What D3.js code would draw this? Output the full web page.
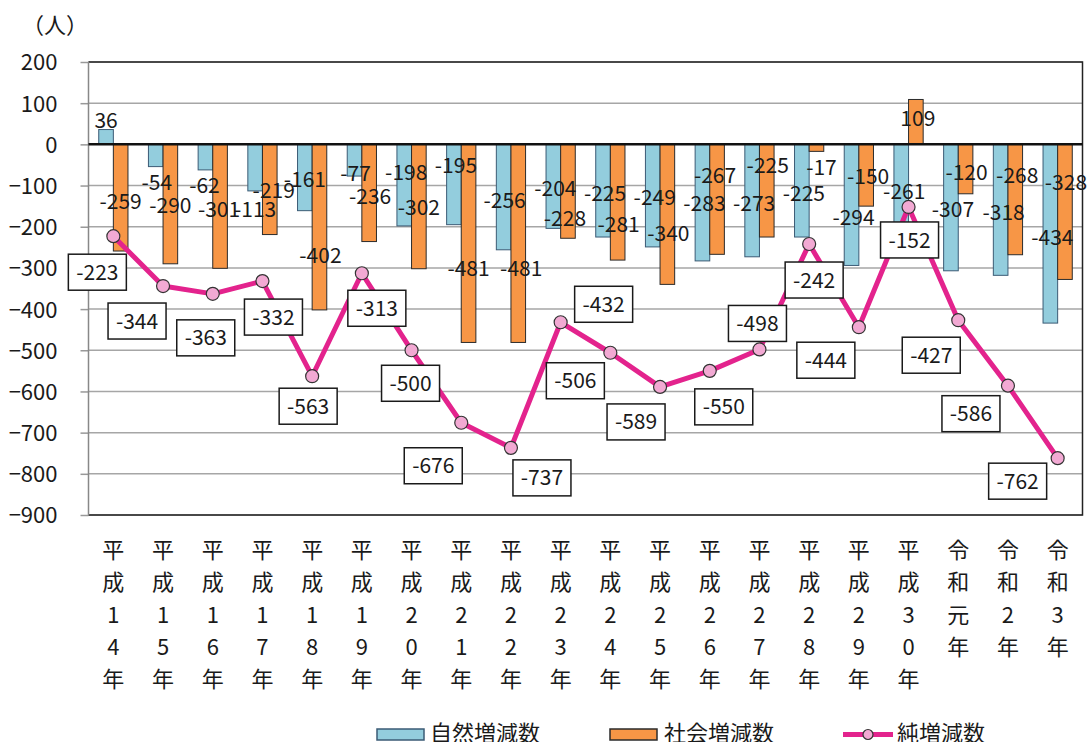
<!DOCTYPE html>
<html>
<head>
<meta charset="utf-8">
<script src="https://cdn.jsdelivr.net/npm/d3@7"></script>
<style>
  html, body { margin: 0; padding: 0; background: #fff; }
  text { font-family: "Noto Sans CJK JP", "Noto Sans", sans-serif; fill: #1a1a1a; }
</style>
</head>
<body>
<div id="canvas"></div>
<script>
var years = ['平成14年', '平成15年', '平成16年', '平成17年', '平成18年', '平成19年', '平成20年',
    '平成21年', '平成22年', '平成23年', '平成24年', '平成25年', '平成26年', '平成27年',
    '平成28年', '平成29年', '平成30年', '令和元年', '令和2年', '令和3年'];
var natural = [36, -54, -62, -113, -161, -77, -198, -195, -256, -204, -225, -249, -283, -273, -225, -294, -261, -307, -318, -434];
var social = [-259, -290, -301, -219, -402, -236, -302, -481, -481, -228, -281, -340, -267, -225, -17, -150, 109, -120, -268, -328];
var net = [-223, -344, -363, -332, -563, -313, -500, -676, -737, -432, -506, -589, -550, -498, -242, -444, -152, -427, -586, -762];
var yTicks = [200, 100, 0, -100, -200, -300, -400, -500, -600, -700, -800, -900];
var seriesNames = ['自然増減数', '社会増減数', '純増減数'];

// hand placed data labels, offsets in px from the bar end / point
var natLabelDx = [0, 1, -1, 0, 0, 1, 2, 2, 1, 2, 2, 2, 2, 2, 2, 2, 3, 2, 3, 2];
var natLabelDy = [-9, 16, 16, 19, -31, -3, -53, -59, -49, -40, -44, -49, -57, -53, -44, -48, -60, -61, -63, -86];
var socLabelDx = [0, 0, -1, 4, 1, 1, 0, 0, 3, -3, 1, 1, -2, 1, 5, 2, 2, 1, 2, 1];
var socLabelDy = [-50, -58, -59, -44, -54, -45, -61, -74, -74, -20, -36, -51, -79, -72, 16, -30, 19, -21, -79, -97];
var netLabelShift = [[-16, 36], [-26, 35], [-7, 44], [11, 36], [-4, 30], [15, 35], [-1, 33], [-28, 43],
    [31, 30], [43, -18], [-35, 28], [-24, 35], [14, 36], [-2, -26], [5, 36], [-33, 33],
    [1, 33], [-27, 35], [-37, 28], [-40, 23]];

var W = 1089, H = 742;
var plotL = 88.5, plotR = 1082.5, plotT = 62, plotB = 515;

var blue = '#93cddd', orange = '#f79646', pink = '#e3238d';

var svg = d3.select('#canvas').append('svg')
    .attr('width', W)
    .attr('height', H);

var x = d3.scaleBand()
    .domain(years)
    .range([plotL, plotR]);

var xSub = d3.scaleBand()
    .domain(['n', 's'])
    .range([0, x.bandwidth()])
    .paddingOuter(0.7);

var y = d3.scaleLinear()
    .domain([-900, 200])
    .range([plotB, plotT]);

// gridlines + y axis
var yAxis = d3.axisLeft(y)
    .tickValues(yTicks)
    .tickSize(8)
    .tickPadding(23)
    .tickFormat(d3.format('d'));

var gy = svg.append('g')
    .attr('transform', 'translate(' + plotL + ',0)')
    .call(yAxis);
gy.select('.domain').remove();
gy.selectAll('.tick line').attr('stroke', '#999').attr('stroke-width', 1.5);
gy.selectAll('.tick text')
    .style('font-size', '22px')
    .attr('dy', '0.36em');

svg.append('g').selectAll('line')
    .data(yTicks)
    .enter()
    .append('line')
    .attr('x1', plotL)
    .attr('x2', plotR)
    .attr('y1', function(d) { return y(d); })
    .attr('y2', function(d) { return y(d); })
    .attr('stroke', '#a6a6a6')
    .attr('stroke-width', 1.5);

// plot frame
svg.append('path')
    .attr('d', 'M' + plotL + ',' + plotT + 'H' + plotR + 'V' + plotB + 'H' + plotL)
    .attr('fill', 'none')
    .attr('stroke', '#222')
    .attr('stroke-width', 1.5);
svg.append('line')
    .attr('x1', plotL).attr('x2', plotL)
    .attr('y1', plotT).attr('y2', plotB)
    .attr('stroke', '#888')
    .attr('stroke-width', 1.5);

// bars
function barY(v) { return v >= 0 ? y(v) : y(0); }
function barH(v) { return Math.abs(y(v) - y(0)); }

var groups = svg.append('g').selectAll('g')
    .data(years)
    .enter()
    .append('g')
    .attr('transform', function(d) { return 'translate(' + x(d) + ',0)'; });

groups.append('rect')
    .attr('x', xSub('n'))
    .attr('width', xSub.bandwidth())
    .attr('y', function(d, i) { return barY(natural[i]); })
    .attr('height', function(d, i) { return barH(natural[i]); })
    .attr('fill', blue)
    .attr('stroke', '#3b5b75')
    .attr('stroke-width', 1);

groups.append('rect')
    .attr('x', xSub('s'))
    .attr('width', xSub.bandwidth())
    .attr('y', function(d, i) { return barY(social[i]); })
    .attr('height', function(d, i) { return barH(social[i]); })
    .attr('fill', orange)
    .attr('stroke', '#2b2b2b')
    .attr('stroke-width', 1);

// zero line
svg.append('line')
    .attr('x1', plotL).attr('x2', plotR)
    .attr('y1', y(0)).attr('y2', y(0))
    .attr('stroke', '#111')
    .attr('stroke-width', 2.5);

// bar labels
groups.append('text')
    .attr('x', function(d, i) { return xSub('n') + xSub.bandwidth() / 2 + natLabelDx[i]; })
    .attr('y', function(d, i) { return y(natural[i]) + natLabelDy[i]; })
    .attr('dy', '0.36em')
    .attr('text-anchor', 'middle')
    .style('font-size', '21px')
    .text(function(d, i) { return natural[i]; });

groups.append('text')
    .attr('x', function(d, i) { return xSub('s') + xSub.bandwidth() / 2 + socLabelDx[i]; })
    .attr('y', function(d, i) { return y(social[i]) + socLabelDy[i]; })
    .attr('dy', '0.36em')
    .attr('text-anchor', 'middle')
    .style('font-size', '21px')
    .text(function(d, i) { return social[i]; });

// net line
var cx = function(d, i) { return x(years[i]) + x.bandwidth() / 2; };
var line = d3.line()
    .x(cx)
    .y(function(d) { return y(d); });

svg.append('path')
    .datum(net)
    .attr('d', line)
    .attr('fill', 'none')
    .attr('stroke', pink)
    .attr('stroke-width', 5)
    .attr('stroke-linejoin', 'round');

svg.append('g').selectAll('circle')
    .data(net)
    .enter()
    .append('circle')
    .attr('cx', cx)
    .attr('cy', function(d) { return y(d); })
    .attr('r', 6.5)
    .attr('fill', '#f2a9d3')
    .attr('stroke', '#333')
    .attr('stroke-width', 1.2);

// net labels in boxes
var boxes = svg.append('g').selectAll('g')
    .data(net)
    .enter()
    .append('g')
    .attr('transform', function(d, i) {
        return 'translate(' + (cx(d, i) + netLabelShift[i][0]) + ',' + (y(d) + netLabelShift[i][1]) + ')';
    });
boxes.append('rect')
    .attr('x', -29)
    .attr('y', -18)
    .attr('width', 58)
    .attr('height', 36)
    .attr('fill', '#fff')
    .attr('stroke', '#1a1a1a')
    .attr('stroke-width', 1.5);
boxes.append('text')
    .attr('text-anchor', 'middle')
    .attr('dy', '0.36em')
    .style('font-size', '21px')
    .text(function(d) { return d; });

// x labels, one character per line
var xl = svg.append('g').selectAll('text')
    .data(years)
    .enter()
    .append('text')
    .attr('text-anchor', 'middle')
    .style('font-size', '22px');
xl.selectAll('tspan')
    .data(function(d) { return d.split(''); })
    .enter()
    .append('tspan')
    .attr('x', function() { var p = this.parentNode.__data__; return x(p) + x.bandwidth() / 2; })
    .attr('y', function(d, k) { return 550 + k * 32.3; })
    .attr('dy', '0.36em')
    .text(function(d) { return d; });

// unit
svg.append('text')
    .attr('x', 22)
    .attr('y', 25)
    .attr('dy', '0.36em')
    .style('font-size', '22px')
    .text('（人）');

// legend
var lg = svg.append('g');
lg.append('rect')
    .attr('x', 377).attr('y', 729).attr('width', 47).attr('height', 11)
    .attr('fill', blue).attr('stroke', '#3b5b75').attr('stroke-width', 1.5);
lg.append('text').attr('x', 430).attr('y', 741).style('font-size', '22px').text(seriesNames[0]);
lg.append('rect')
    .attr('x', 610).attr('y', 729).attr('width', 47).attr('height', 11)
    .attr('fill', orange).attr('stroke', '#2b2b2b').attr('stroke-width', 1.5);
lg.append('text').attr('x', 664).attr('y', 741).style('font-size', '22px').text(seriesNames[1]);
lg.append('line')
    .attr('x1', 843).attr('x2', 893).attr('y1', 734.5).attr('y2', 734.5)
    .attr('stroke', pink).attr('stroke-width', 5);
lg.append('circle')
    .attr('cx', 868).attr('cy', 734.5).attr('r', 5)
    .attr('fill', '#f2a9d3').attr('stroke', '#333').attr('stroke-width', 1.2);
lg.append('text').attr('x', 897).attr('y', 741).style('font-size', '22px').text(seriesNames[2]);
</script>
</body>
</html>
